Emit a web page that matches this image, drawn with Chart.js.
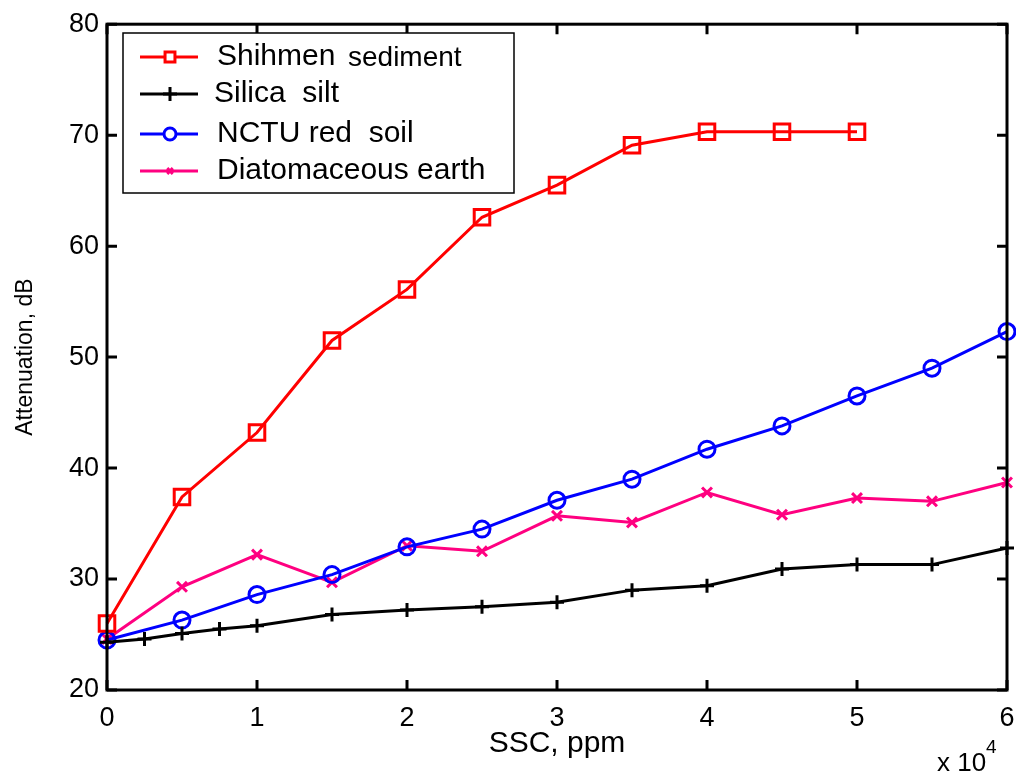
<!DOCTYPE html>
<html>
<head>
<meta charset="utf-8">
<title>Attenuation vs SSC</title>
<script src="https://cdn.jsdelivr.net/npm/chart.js@4/dist/chart.umd.min.js"></script>
<style>
  html, body { margin: 0; padding: 0; background: #fff; }
  #wrap { width: 1016px; height: 776px; }
</style>
</head>
<body>
<div id="wrap"><canvas id="chart"></canvas></div>
<script>
// SSC in ppm, attenuation in dB
const sscCoarse = [0, 5000, 10000, 15000, 20000, 25000, 30000, 35000, 40000, 45000, 50000, 55000, 60000];
const sscFine = [0, 2500, 5000, 7500, 10000, 15000, 20000, 25000, 30000, 35000, 40000, 45000, 50000, 55000, 60000];

const shihmen = [26.0, 37.4, 43.2, 51.5, 56.1, 62.6, 65.5, 69.1, 70.3, 70.3, 70.3];
const silica = [24.3, 24.6, 25.1, 25.5, 25.8, 26.8, 27.2, 27.5, 27.9, 29.0, 29.4, 30.9, 31.3, 31.3, 32.8];
const nctu = [24.5, 26.3, 28.6, 30.4, 32.9, 34.5, 37.1, 39.0, 41.7, 43.8, 46.5, 49.0, 52.3];
const diatom = [24.6, 29.3, 32.2, 29.7, 33.0, 32.5, 35.7, 35.1, 37.8, 35.8, 37.3, 37.0, 38.7];

const xTicks = [0, 10000, 20000, 30000, 40000, 50000, 60000];
const yTicks = [20, 30, 40, 50, 60, 70, 80];

const FONT = "'Liberation Sans', Arial, sans-serif";

function pts(xs, ys) {
  return ys.map(function(y, i) { return { x: xs[i], y: y }; });
}

function series(label, xs, ys, color, style, radius) {
  return {
    label: label,
    data: pts(xs, ys),
    borderColor: color,
    backgroundColor: color,
    borderWidth: 3,
    pointStyle: style,
    pointRadius: radius,
    pointBorderWidth: 3,
    pointBorderColor: color,
    pointBackgroundColor: 'rgba(0,0,0,0)',
    tension: 0,
    clip: false
  };
}

// MATLAB-style frame: box on all four sides, ticks pointing inward
const framePlugin = {
  id: 'frame',
  afterDraw(chart) {
    const ctx = chart.ctx;
    const a = chart.chartArea;
    const xs = chart.scales.x, ys = chart.scales.y;
    const len = 10;
    ctx.save();
    ctx.strokeStyle = '#000';
    ctx.lineWidth = 3;
    ctx.strokeRect(a.left, a.top, a.right - a.left, a.bottom - a.top);
    ctx.beginPath();
    xTicks.forEach(function(v) {
      const px = xs.getPixelForValue(v);
      ctx.moveTo(px, a.bottom); ctx.lineTo(px, a.bottom - len);
      ctx.moveTo(px, a.top); ctx.lineTo(px, a.top + len);
    });
    yTicks.forEach(function(v) {
      const py = ys.getPixelForValue(v);
      ctx.moveTo(a.left, py); ctx.lineTo(a.left + len, py);
      ctx.moveTo(a.right, py); ctx.lineTo(a.right - len, py);
    });
    ctx.stroke();

    // exponent label under the x axis
    ctx.fillStyle = '#000';
    ctx.textBaseline = 'alphabetic';
    ctx.textAlign = 'left';
    ctx.font = '26px ' + FONT;
    ctx.fillText('x 10', 937, 771);
    ctx.font = '19px ' + FONT;
    ctx.fillText('4', 986, 753);

    // legend box
    const bx = 123, by = 33, bw = 391, bh = 160;
    ctx.fillStyle = '#fff';
    ctx.fillRect(bx, by, bw, bh);
    ctx.strokeStyle = '#000';
    ctx.lineWidth = 1.5;
    ctx.strokeRect(bx, by, bw, bh);
    const rows = [57, 94, 134, 171];
    chart.data.datasets.forEach(function(ds, i) {
      const y = rows[i];
      ctx.strokeStyle = ds.borderColor;
      ctx.lineWidth = 3;
      ctx.beginPath();
      ctx.moveTo(140, y); ctx.lineTo(198, y);
      ctx.stroke();
      ctx.lineWidth = 3;
      ctx.fillStyle = '#fff';
      Chart.helpers.drawPoint(ctx, {
        pointStyle: ds.pointStyle,
        radius: [7, 7, 6, 4][i],
        borderWidth: 3,
        rotation: 0
      }, 170, y);
      ctx.fillStyle = '#000';
      ctx.textBaseline = 'middle';
      ctx.font = '30px ' + FONT;
      if (i === 0) {
        ctx.fillText('Shihmen', 217, y);
        ctx.font = '28px ' + FONT;
        ctx.fillText('sediment', 348, y + 1);
      } else {
        ctx.fillText(ds.label, i === 1 ? 214 : 217, y);
      }
    });
    ctx.restore();
  }
};

new Chart(document.getElementById('chart'), {
  type: 'line',
  data: {
    datasets: [
      series('Shihmen sediment', sscCoarse, shihmen, '#ff0000', 'rect', 11),
      series('Silica  silt', sscFine, silica, '#000000', 'cross', 7),
      series('NCTU red  soil', sscCoarse, nctu, '#0000ff', 'circle', 8),
      series('Diatomaceous earth', sscCoarse, diatom, '#ff0080', 'crossRot', 7)
    ]
  },
  options: {
    responsive: true,
    maintainAspectRatio: false,
    animation: false,
    layout: { autoPadding: false, padding: { top: 23, right: 9, left: 0, bottom: 0 } },
    plugins: {
      legend: { display: false },
      tooltip: { enabled: false }
    },
    scales: {
      x: {
        type: 'linear',
        min: 0,
        max: 60000,
        afterFit(scale) {
          scale.height = 86;
          scale.paddingLeft = 0;
          scale.paddingRight = 0;
        },
        afterBuildTicks(scale) { scale.ticks = xTicks.map(function(v) { return { value: v }; }); },
        grid: { display: false, drawTicks: false },
        border: { display: false },
        ticks: {
          color: '#000',
          padding: 12,
          font: { family: FONT, size: 27 },
          callback: function(v) { return String(v / 10000); }
        },
        title: {
          display: true,
          text: 'SSC, ppm',
          color: '#000',
          padding: { top: 0, bottom: 14 },
          font: { family: FONT, size: 30 }
        }
      },
      y: {
        type: 'linear',
        min: 20,
        max: 80,
        afterFit(scale) { scale.width = 107; },
        afterBuildTicks(scale) { scale.ticks = yTicks.map(function(v) { return { value: v }; }); },
        grid: { display: false, drawTicks: false },
        border: { display: false },
        ticks: {
          color: '#000',
          padding: 8,
          font: { family: FONT, size: 27 }
        },
        title: {
          display: true,
          text: 'Attenuation, dB',
          color: '#000',
          padding: { top: 12, bottom: 0 },
          font: { family: FONT, size: 23 }
        }
      }
    }
  },
  plugins: [framePlugin]
});
</script>
</body>
</html>
